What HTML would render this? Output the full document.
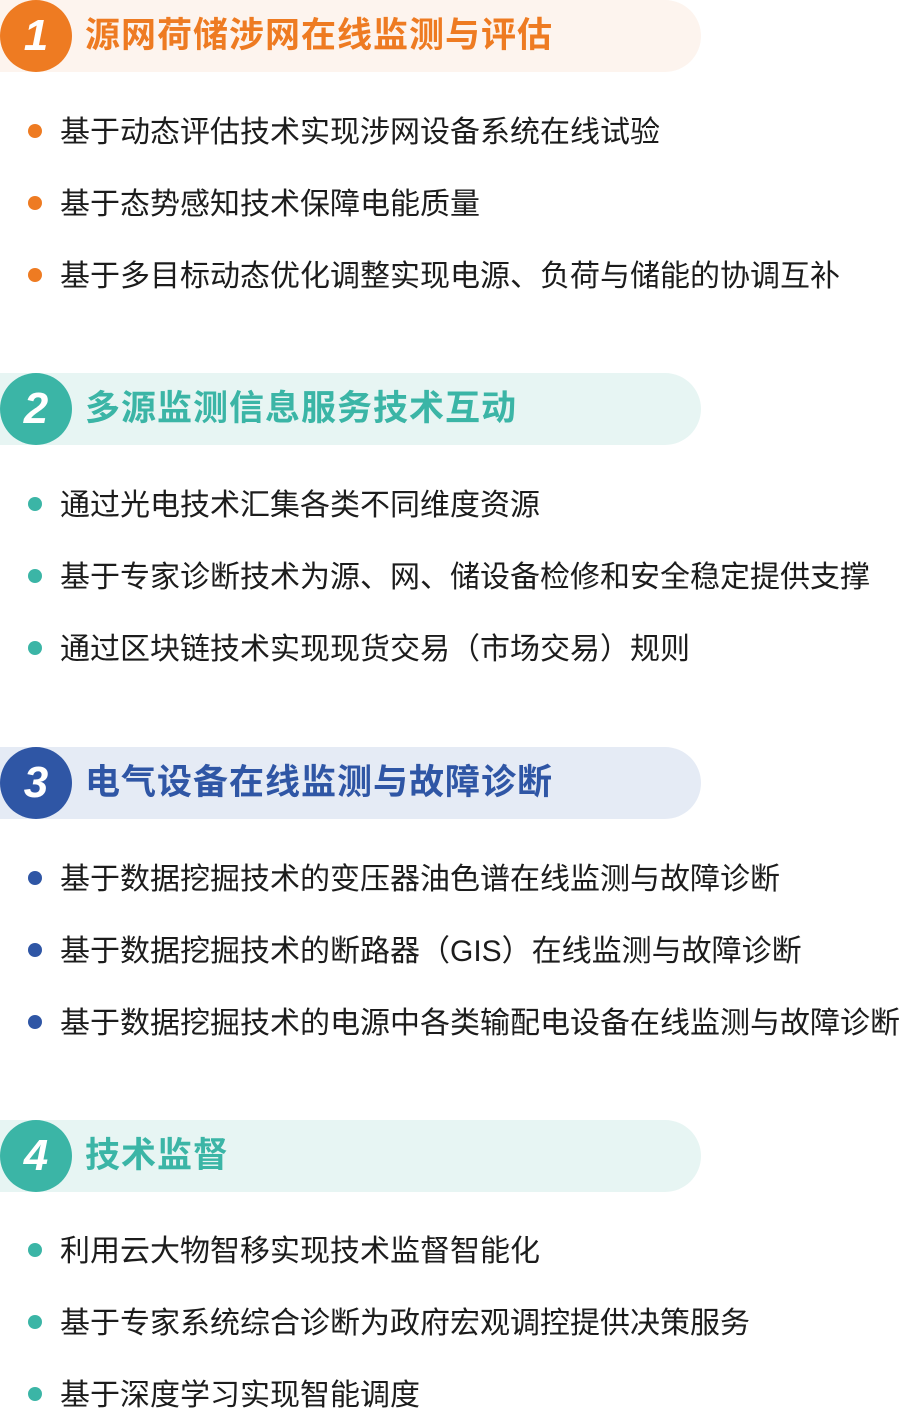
<!DOCTYPE html>
<html><head><meta charset="utf-8"><style>
html,body{margin:0;padding:0;background:#fff;}
body{width:901px;height:1410px;position:relative;overflow:hidden;font-family:"Liberation Sans","Noto Sans CJK SC",sans-serif;}
.pill{position:absolute;left:0;width:701px;height:72px;border-radius:0 36px 36px 0;}
.circ{position:absolute;left:0;width:72px;height:72px;border-radius:50%;color:#fff;font:italic bold 44px/72px "Liberation Sans",sans-serif;text-align:center;}
.title{position:absolute;left:85px;height:72px;line-height:72px;font-weight:bold;font-size:35px;letter-spacing:1px;white-space:nowrap;}
.b{position:absolute;left:60px;font-size:30px;line-height:36px;color:#1c1c1c;white-space:nowrap;margin-top:2px;}
.d{position:absolute;left:28px;width:14px;height:14px;border-radius:50%;}
</style></head><body>
<div class="pill" style="top:0;background:#fdf4ee"></div>
<div class="circ" style="top:0;background:#ee7b22">1</div>
<div class="title" style="top:0;color:#ee7b22">源网荷储涉网在线监测与评估</div>
<div class="d" style="top:124px;background:#ee7b22"></div><div class="b" style="top:113px">基于动态评估技术实现涉网设备系统在线试验</div>
<div class="d" style="top:196px;background:#ee7b22"></div><div class="b" style="top:185px">基于态势感知技术保障电能质量</div>
<div class="d" style="top:268px;background:#ee7b22"></div><div class="b" style="top:257px">基于多目标动态优化调整实现电源、负荷与储能的协调互补</div>

<div class="pill" style="top:373px;background:#e7f5f3"></div>
<div class="circ" style="top:373px;background:#3bb5a6">2</div>
<div class="title" style="top:373px;color:#3bb5a6">多源监测信息服务技术互动</div>
<div class="d" style="top:497px;background:#3bb5a6"></div><div class="b" style="top:486px">通过光电技术汇集各类不同维度资源</div>
<div class="d" style="top:569px;background:#3bb5a6"></div><div class="b" style="top:558px">基于专家诊断技术为源、网、储设备检修和安全稳定提供支撑</div>
<div class="d" style="top:641px;background:#3bb5a6"></div><div class="b" style="top:630px">通过区块链技术实现现货交易（市场交易）规则</div>

<div class="pill" style="top:747px;background:#e5ebf5"></div>
<div class="circ" style="top:747px;background:#2f56a5">3</div>
<div class="title" style="top:747px;color:#2f56a5">电气设备在线监测与故障诊断</div>
<div class="d" style="top:871px;background:#2f56a5"></div><div class="b" style="top:860px">基于数据挖掘技术的变压器油色谱在线监测与故障诊断</div>
<div class="d" style="top:943px;background:#2f56a5"></div><div class="b" style="top:932px">基于数据挖掘技术的断路器（GIS）在线监测与故障诊断</div>
<div class="d" style="top:1015px;background:#2f56a5"></div><div class="b" style="top:1004px">基于数据挖掘技术的电源中各类输配电设备在线监测与故障诊断</div>

<div class="pill" style="top:1120px;background:#e7f5f3"></div>
<div class="circ" style="top:1120px;background:#3bb5a6">4</div>
<div class="title" style="top:1120px;color:#3bb5a6">技术监督</div>
<div class="d" style="top:1243px;background:#3bb5a6"></div><div class="b" style="top:1232px">利用云大物智移实现技术监督智能化</div>
<div class="d" style="top:1315px;background:#3bb5a6"></div><div class="b" style="top:1304px">基于专家系统综合诊断为政府宏观调控提供决策服务</div>
<div class="d" style="top:1387px;background:#3bb5a6"></div><div class="b" style="top:1376px">基于深度学习实现智能调度</div>
</body></html>
